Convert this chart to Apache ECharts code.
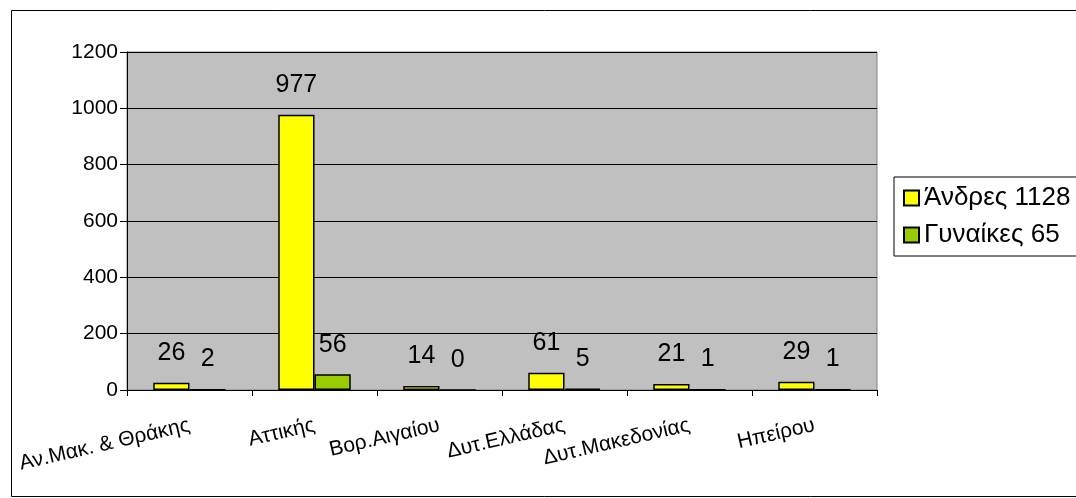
<!DOCTYPE html>
<html>
<head>
<meta charset="utf-8">
<script src="https://cdn.jsdelivr.net/npm/echarts@6/dist/echarts.min.js"></script>
<style>
html,body{margin:0;padding:0;background:#fff;}
#c{width:1076px;height:498px;}
</style>
</head>
<body>
<div id="c"></div>
<script>
const categories = ['Αν.Μακ. & Θράκης', 'Αττικής', 'Βορ.Αιγαίου', 'Δυτ.Ελλάδας', 'Δυτ.Μακεδονίας', 'Ηπείρου'];
const men = [26, 977, 14, 61, 21, 29];
const women = [2, 56, 0, 5, 1, 1];
const seriesNames = ['Άνδρες 1128', 'Γυναίκες 65'];
const yTicks = {min: 0, max: 1200, interval: 200};

const FONT = '"Liberation Sans", Arial, sans-serif';
const chart = echarts.init(document.getElementById('c'), null, {renderer: 'canvas'});
const labelStyle = {show: true, position: 'top', distance: 17, color: '#000', fontSize: 25, fontFamily: FONT};
chart.setOption({
  animation: false,
  backgroundColor: '#fff',
  textStyle: {fontFamily: FONT},
  graphic: [{
    type: 'rect', left: 9, top: 8, silent: true,
    shape: {width: 1100, height: 486},
    style: {fill: 'none', stroke: '#000', lineWidth: 1}
  }],
  grid: {
    left: 127, right: 199, top: 52, bottom: 108,
    containLabel: false, outerBoundsMode: 'none',
    show: true, backgroundColor: '#c0c0c0', borderColor: '#808080', borderWidth: 1
  },
  legend: {
    orient: 'vertical', left: 894, top: 177,
    backgroundColor: '#fff', borderColor: '#000', borderWidth: 1,
    padding: [8, 8, 8, 9], itemGap: 11, itemWidth: 15, itemHeight: 15, itemTextGap: 5,
    icon: 'rect',
    textStyle: {fontSize: 26, color: '#000', fontFamily: FONT},
    data: seriesNames
  },
  xAxis: {
    type: 'category', data: categories,
    axisLine: {lineStyle: {color: '#000', width: 1}},
    axisTick: {show: true, length: 6, lineStyle: {color: '#000'}},
    axisLabel: {rotate: 13, margin: 35, fontSize: 21, color: '#000', fontFamily: FONT, interval: 0}
  },
  yAxis: {
    type: 'value', min: yTicks.min, max: yTicks.max, interval: yTicks.interval,
    axisLine: {show: true, lineStyle: {color: '#000'}},
    axisTick: {show: true, length: 7, lineStyle: {color: '#000'}},
    axisLabel: {fontSize: 21, color: '#000', margin: 9, fontFamily: FONT, formatter: v => String(v)},
    splitLine: {show: true, lineStyle: {color: '#000', width: 1}}
  },
  series: [
    {
      name: seriesNames[0], type: 'bar', data: men,
      barGap: '0%', barCategoryGap: '42%',
      itemStyle: {color: '#ffff00', borderColor: '#000', borderWidth: 1.5},
      label: labelStyle
    },
    {
      name: seriesNames[1], type: 'bar', data: women,
      barGap: '0%', barCategoryGap: '42%',
      itemStyle: {color: '#99cc00', borderColor: '#000', borderWidth: 1.5},
      label: labelStyle
    }
  ]
});
</script>
</body>
</html>
